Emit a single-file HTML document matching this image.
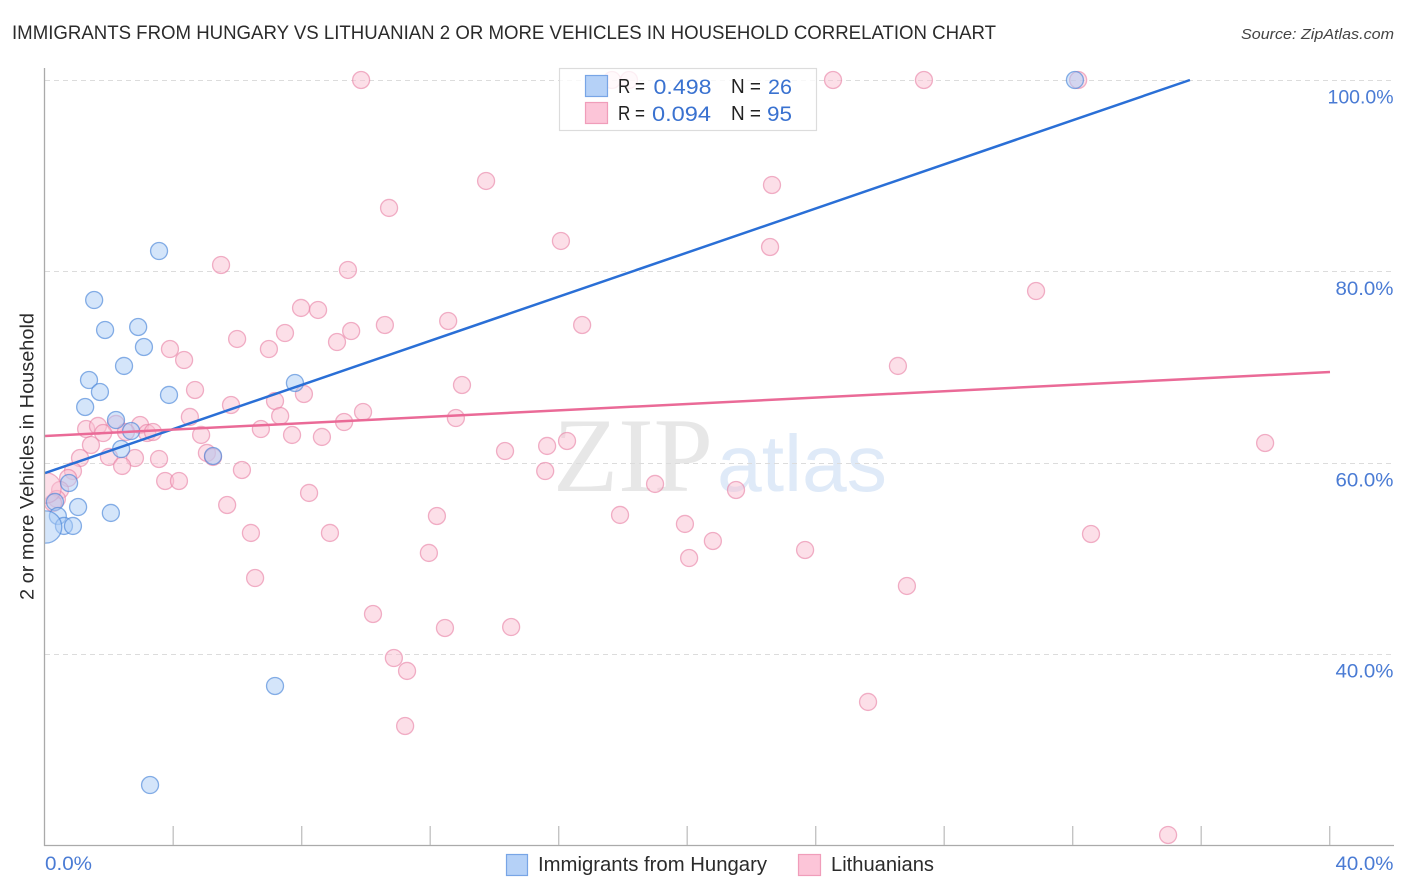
<!DOCTYPE html>
<html>
<head>
<meta charset="utf-8">
<style>
html,body{margin:0;padding:0;background:#fff;width:1406px;height:892px;overflow:hidden}
svg{display:block;font-family:"Liberation Sans",sans-serif}
</style>
</head>
<body>
<svg id="chart" width="1406" height="892" viewBox="0 0 1406 892" xmlns="http://www.w3.org/2000/svg">
  <defs>
    <clipPath id="plot-clip"><rect x="45" y="60" width="1349" height="785"/></clipPath>
  </defs>
  <text x="12" y="39" font-size="19" fill="#2b2b2b" textLength="984" lengthAdjust="spacingAndGlyphs">IMMIGRANTS FROM HUNGARY VS LITHUANIAN 2 OR MORE VEHICLES IN HOUSEHOLD CORRELATION CHART</text>
  <text x="1241" y="39" font-size="15" font-style="italic" fill="#444" textLength="153" lengthAdjust="spacingAndGlyphs">Source: ZipAtlas.com</text>

  <g>
    <text x="553" y="491" font-family="'Liberation Serif',serif" font-size="106" fill="#e7e7e7" textLength="160" lengthAdjust="spacingAndGlyphs">ZIP</text>
    <text x="717" y="491" font-size="80" fill="#dfeaf8" textLength="170" lengthAdjust="spacingAndGlyphs">atlas</text>
  </g>

  <g id="grid"></g>
  <g id="points" clip-path="url(#plot-clip)"></g>
  <g id="lines" clip-path="url(#plot-clip)"></g>
  <g id="axes"></g>

  <text transform="translate(33.5,600) rotate(-90)" font-size="19" fill="#2b2b2b" textLength="287" lengthAdjust="spacingAndGlyphs">2 or more Vehicles in Household</text>

  <g>
    <rect x="559.5" y="68.5" width="257" height="62" fill="#fff" fill-opacity="0.8" stroke="#dcdcdc" stroke-width="1.2"/>
    <rect x="585.5" y="75.5" width="22" height="21" fill="#b5d1f7" stroke="#78a5e6" stroke-width="1.2"/>
    <rect x="585.5" y="102.5" width="22" height="21" fill="#fcc5d8" stroke="#f09dba" stroke-width="1.2"/>
    <g font-size="20" fill="#222">
      <text x="618" y="93" textLength="27" lengthAdjust="spacingAndGlyphs">R =</text>
      <text x="731" y="93" textLength="30" lengthAdjust="spacingAndGlyphs">N =</text>
      <text x="618" y="120" textLength="27" lengthAdjust="spacingAndGlyphs">R =</text>
      <text x="731" y="120" textLength="30" lengthAdjust="spacingAndGlyphs">N =</text>
    </g>
    <g font-size="21.5" fill="#3a72d0">
      <text x="653.5" y="94" textLength="58" lengthAdjust="spacingAndGlyphs">0.498</text>
      <text x="768" y="94" textLength="24" lengthAdjust="spacingAndGlyphs">26</text>
      <text x="652" y="121" textLength="59" lengthAdjust="spacingAndGlyphs">0.094</text>
      <text x="767" y="121" textLength="25" lengthAdjust="spacingAndGlyphs">95</text>
    </g>
  </g>

  <g>
    <g>
      <rect x="506.5" y="854.5" width="21" height="21" fill="#b5d1f7" stroke="#78a5e6" stroke-width="1.2"/>
      <text x="538" y="871" font-size="20" fill="#2b2b2b" textLength="229" lengthAdjust="spacingAndGlyphs">Immigrants from Hungary</text>
    </g>
    <g>
      <rect x="798.5" y="854.5" width="22" height="21" fill="#fcc5d8" stroke="#f09dba" stroke-width="1.2"/>
      <text x="831" y="871" font-size="20" fill="#2b2b2b" textLength="103" lengthAdjust="spacingAndGlyphs">Lithuanians</text>
    </g>
  </g>
</svg>
<script>
var xTickValues = [4, 8, 12, 16, 20, 24, 28, 32, 36, 40];
var xAxisLabels = ["0.0%", "40.0%"];
var yTickValues = [100, 80, 60, 40];
var yTickLabels = ["100.0%", "80.0%", "60.0%", "40.0%"];

var hungaryX = [32.06,3.55,1.53,1.87,2.90,3.08,2.46,1.37,3.86,7.78,1.71,1.25,2.21,2.68,2.37,5.23,0.75,0.31,1.03,2.05,0.40,0.59,0.87,0.02,7.16,3.27];
var hungaryY = [100,82.13,77.01,73.88,74.19,72.10,70.12,68.65,67.09,68.34,67.40,65.83,64.47,63.32,61.44,60.71,57.89,55.91,55.38,54.76,54.44,53.40,53.40,53.29,36.68,26.33];
var hungarySize = [1,1,1,1,1,1,1,1,1,1,1,1,1,1,1,1,1,1,1,1,1,1,1,3.6,1,1];

var lithuanianX = [9.84,17.65,18.18,24.53,27.36,32.16,13.73,22.63,10.71,16.06,22.57,5.48,9.43,30.85,7.97,8.50,10.58,12.55,16.72,9.53,5.98,6.97,7.47,9.09,3.89,4.33,26.55,12.98,4.67,8.06,7.16,5.79,9.90,4.51,7.32,12.79,9.31,6.72,7.69,4.86,8.62,1.28,1.65,2.21,2.96,1.81,2.52,3.18,3.36,1.43,37.98,16.25,15.63,14.32,5.04,5.23,1.99,1.09,2.80,3.55,2.40,6.13,15.57,0.87,3.74,4.17,18.99,0.72,21.51,8.22,0.47,0.37,5.67,0.25,17.90,12.20,19.92,6.41,8.87,32.56,20.79,23.66,11.95,20.05,6.54,26.83,10.21,12.45,14.51,10.86,11.27,25.62,11.21,34.96,0.03];
var lithuanianY = [100,100,100,100,100,100,89.45,89.03,86.63,83.18,82.55,80.67,80.15,77.95,76.18,75.97,74.40,74.82,74.40,73.77,72.94,71.89,73.56,72.62,71.89,70.74,70.12,68.13,67.61,67.19,66.46,66.04,65.31,64.79,64.89,64.68,64.26,63.53,62.91,62.91,62.70,63.53,63.85,64.06,63.95,63.11,63.22,63.11,63.22,61.86,62.07,62.28,61.76,61.23,61.03,60.61,60.61,60.50,60.50,60.40,59.67,59.25,59.14,59.14,58.10,58.10,57.79,58.41,57.16,56.85,57.16,56.22,55.59,55.80,54.55,54.44,53.61,52.67,52.67,52.56,51.83,50.89,50.58,50.05,47.96,47.13,44.20,42.74,42.84,39.60,38.25,35.01,32.50,21.11,57.37];
var lithuanianSize = [1,1,1,1,1,1,1,1,1,1,1,1,1,1,1,1,1,1,1,1,1,1,1,1,1,1,1,1,1,1,1,1,1,1,1,1,1,1,1,1,1,1,1,1,1,1,1,1,1,1,1,1,1,1,1,1,1,1,1,1,1,1,1,1,1,1,1,1,1,1,1,1,1,1,1,1,1,1,1,1,1,1,1,1,1,1,1,1,1,1,1,1,1,1,3.2];

var hungaryTrendX = [0, 35.64];
var hungaryTrendY = [58.93, 100];
var lithuanianTrendX = [0, 40];
var lithuanianTrendY = [62.8, 69.49];

var NS = "http://www.w3.org/2000/svg";
function xScale(v){ return 45 + v * 32.125; }
function yScale(v){ return 80 + (100 - v) * 9.57; }
function rScale(s){ return 8.5 * Math.sqrt(s); }
function mk(tag, parent){
  var el = document.createElementNS(NS, tag);
  parent.appendChild(el);
  return el;
}
function setAll(el, map){
  for (var k in map) el.setAttribute(k, map[k]);
}
var grid = document.getElementById("grid");
var axes = document.getElementById("axes");
var points = document.getElementById("points");
var lines = document.getElementById("lines");

yTickValues.forEach(function(v, i){
  var y = Math.round(yScale(v)) + 0.5;
  var g = mk("line", grid);
  
  
  setAll(g, {x1:45, x2:1393, y1:y, y2:y, stroke:"#dcdcdc", "stroke-width":1, "stroke-dasharray":"5 4"});
  var t = mk("text", axes);
  
  
  setAll(t, {x:1393.5, y:yScale(v) + 23.5, "text-anchor":"end", "font-size":19.5, fill:"#4a7bd4", textLength:(yTickLabels[i].length === 6 ? 66 : 58), lengthAdjust:"spacingAndGlyphs"});
  t.textContent = yTickLabels[i];
});

var yAxis = mk("line", axes);


setAll(yAxis, {x1:44.5, x2:44.5, y1:68, y2:846, stroke:"#aaaaaa", "stroke-width":1.3});

var xAxis = mk("line", axes);


setAll(xAxis, {x1:44, x2:1394, y1:845.5, y2:845.5, stroke:"#aaaaaa", "stroke-width":1.3});

xTickValues.forEach(function(v){
  var x = xScale(v) - 0.3;
  var t = mk("line", axes);
  
  
  setAll(t, {x1:x, x2:x, y1:826, y2:845, stroke:"#c4c4c4", "stroke-width":1.4});
});

var x0 = mk("text", axes);


setAll(x0, {x:45, y:870, "font-size":19.5, fill:"#4a7bd4", textLength:47, lengthAdjust:"spacingAndGlyphs"});
x0.textContent = xAxisLabels[0];

var x1 = mk("text", axes);


setAll(x1, {x:1393.5, y:870, "text-anchor":"end", "font-size":19.5, fill:"#4a7bd4", textLength:58, lengthAdjust:"spacingAndGlyphs"});
x1.textContent = xAxisLabels[1];

lithuanianX.forEach(function(v, i){
  var c = mk("circle", points);
  
  
  setAll(c, {cx:xScale(v), cy:yScale(lithuanianY[i]), r:rScale(lithuanianSize[i]), fill:"#f9bfd2", "fill-opacity":0.5, stroke:"#e87ea4", "stroke-opacity":0.6, "stroke-width":1.3});
});
hungaryX.forEach(function(v, i){
  var c = mk("circle", points);
  
  
  setAll(c, {cx:xScale(v), cy:yScale(hungaryY[i]), r:rScale(hungarySize[i]), fill:"#a9cbf5", "fill-opacity":0.5, stroke:"#4a86d8", "stroke-opacity":0.65, "stroke-width":1.3});
});

var hl = mk("line", lines);


setAll(hl, {x1:xScale(hungaryTrendX[0]), y1:yScale(hungaryTrendY[0]), x2:xScale(hungaryTrendX[1]), y2:yScale(hungaryTrendY[1]), stroke:"#2a6fd6", "stroke-width":2.5});

var pl = mk("line", lines);


setAll(pl, {x1:xScale(lithuanianTrendX[0]), y1:yScale(lithuanianTrendY[0]), x2:xScale(lithuanianTrendX[1]), y2:yScale(lithuanianTrendY[1]), stroke:"#ea6a97", "stroke-width":2.5});
</script>
</body>
</html>
